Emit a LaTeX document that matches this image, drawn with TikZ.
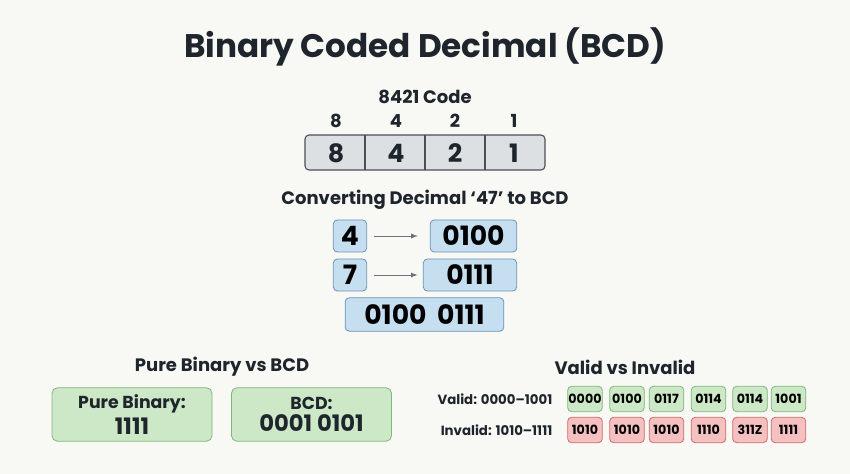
\documentclass[tikz,border=0pt]{standalone}
\usepackage{fontspec}
\setmainfont{Poppins}
\usetikzlibrary{positioning}
\definecolor{bgpage}{HTML}{F8F8F5}
\definecolor{inkdark}{HTML}{1E252C}
\definecolor{grayfill}{HTML}{DDE0E3}
\definecolor{grayline}{HTML}{4A5058}
\definecolor{bluefill}{HTML}{C5DFF0}
\definecolor{blueline}{HTML}{6B93B5}
\definecolor{greenfill}{HTML}{CDE8C6}
\definecolor{greenline}{HTML}{7FB77A}
\definecolor{redfill}{HTML}{F4C1C0}
\definecolor{redline}{HTML}{D06A6A}
\tikzset{
  heading/.style={font=\bfseries\fontsize{13.5}{15}\selectfont, text=inkdark},
  bluebox/.style={draw=blueline, fill=bluefill, rounded corners=3pt, line width=0.6pt,
    font=\bfseries\fontsize{20}{22}\selectfont, text=black, inner sep=0pt},
  greenbig/.style={draw=greenline, fill=greenfill, rounded corners=4pt, line width=0.6pt,
    minimum width=120pt, minimum height=40pt, align=center, text=inkdark, inner sep=0pt,
    font=\bfseries\fontsize{17}{14}\selectfont},
  bitbox/.style={rounded corners=3pt, line width=0.6pt, minimum width=26pt, minimum height=19pt,
    inner sep=0pt, font=\bfseries\fontsize{9.5}{10}\selectfont},
  validbox/.style={bitbox, draw=greenline, fill=greenfill},
  invalidbox/.style={bitbox, draw=redline, fill=redfill},
  conv/.style={->, >=latex, draw=grayline!80, line width=0.7pt}
}
\begin{document}
\begin{tikzpicture}[x=0.75pt, y=-0.75pt]
  \fill[bgpage] (0,0) rectangle (850,474);
  \useasboundingbox (0,0) rectangle (850,474);
  \node[font=\bfseries\fontsize{24.5}{28}\selectfont, text=inkdark] (title) at (425,47) {Binary Coded Decimal (BCD)};

  % 8421 code
  \node[heading] (codehead) at (425,97) {8421 Code};
  \fill[grayfill, rounded corners=3pt] (305,135) rectangle (545,170);
  \draw[grayline, line width=0.8pt, rounded corners=3pt] (305,135) rectangle (545,170);
  \foreach \x in {365,425,485}
    \draw[grayline, line width=0.8pt] (\x,135) -- (\x,170);
  \foreach \w/\x in {8/336,4/396,2/455,1/514} {
    \node[heading] (wt\w) at (\x,121) {\w};
    \node[font=\bfseries\fontsize{19}{21}\selectfont, text=inkdark] (dg\w) at (\x,153) {\w};
  }

  % converting 47
  \node[heading] (convhead) at (425,200) {Converting Decimal ‘47’ to BCD};
  \node[bluebox, minimum width=25pt, minimum height=24pt] (dfour) at (350,236) {4};
  \node[bluebox, minimum width=65pt, minimum height=24pt] (bfour) at (473.5,236) {0100};
  \node[bluebox, minimum width=25pt, minimum height=24pt] (dseven) at (350,275) {7};
  \node[bluebox, minimum width=70pt, minimum height=24pt] (bseven) at (470,275) {0111};
  \node[bluebox, minimum width=119pt, minimum height=25pt] (result) at (424.5,314.5) {0100\hspace{8pt}0111};
  \draw[conv] (dfour.east) ++(5pt,0) coordinate (afour) -- ([xshift=-9pt]bfour.west);
  \draw[conv] (dseven.east) ++(5pt,0) coordinate (aseven) -- ([xshift=-4pt]bseven.west);

  % pure binary vs bcd
  \node[heading] (purehead) at (222,367) {Pure Binary vs BCD};
  \node[greenbig] (pure) at (132,414.5) {{\fontsize{13}{14}\selectfont Pure Binary:}\\[3pt]1111};
  \node[greenbig] (bcd) at (311.5,414.5) {{\fontsize{13}{14}\selectfont BCD:}\\[3pt]0001 0101};

  % valid vs invalid
  \node[heading] (validhead) at (625,367) {Valid vs Invalid};
  \node[font=\bfseries\fontsize{10}{11}\selectfont, text=inkdark, anchor=east] (validlbl) at (557,399) {Valid: 0000–1001};
  \node[font=\bfseries\fontsize{10}{11}\selectfont, text=inkdark, anchor=east] (invalidlbl) at (557,430) {Invalid: 1010–1111};
  \foreach \i/\x/\v/\n in {1/585/0000/1010, 2/627/0100/1010, 3/666.5/0117/1010,
                           4/708.5/0114/1110, 5/750/0114/311Z, 6/788.5/1001/1111} {
    \node[validbox] (valid\i) at (\x,399) {\v};
    \node[invalidbox] (invalid\i) at (\x,430) {\n};
  }
\end{tikzpicture}
\end{document}
